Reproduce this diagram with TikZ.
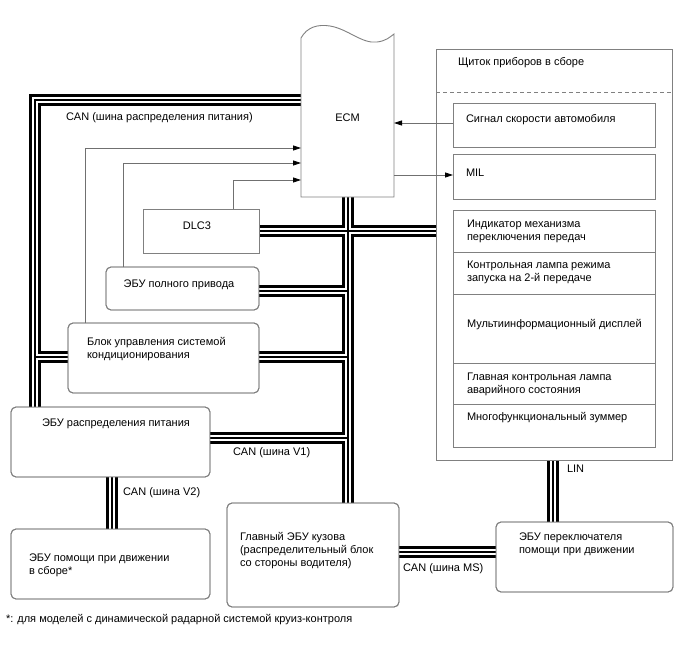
\documentclass[tikz,border=0pt]{standalone}
\usepackage{fontspec}
\setmainfont{Liberation Sans}
\usetikzlibrary{arrows.meta,calc}
\definecolor{boxgray}{HTML}{808080}
\definecolor{linegray}{HTML}{707070}
\begin{document}
\begin{tikzpicture}[x=1pt,y=-1pt,
  font=\fontsize{11}{13}\selectfont,
  box/.style={draw=boxgray, line width=0.9pt, fill=white, inner sep=0pt, outer sep=0pt, anchor=north west},
  rbox/.style={box, rounded corners=5pt},
  txt/.style={inner sep=0pt, outer sep=0pt, anchor=west, align=left},
  arr/.style={draw=linegray, line width=0.8pt, -{Triangle[length=8pt,width=5pt,color=black]}},
  busA/.style={line width=12pt, draw=black},
  busB/.style={line width=6.6pt, draw=white},
  busC/.style={line width=1.5pt, draw=black}]
\useasboundingbox (0,0) rectangle (688,658);

% ---------- nodes (boxes) ----------
\node[inner sep=0pt, outer sep=0pt, minimum width=93pt, minimum height=159pt] (ecm) at (347.5,117.5) {};
\node[box, minimum width=236pt, minimum height=411pt] (ip) at (436,49) {};
\node[box, minimum width=116pt, minimum height=44pt] (dlc) at (143,209) {};
\node[rbox, minimum width=153pt, minimum height=43pt] (awd) at (106,267) {};
\node[rbox, minimum width=191pt, minimum height=70pt] (ac) at (68,323) {};
\node[rbox, minimum width=199pt, minimum height=70pt] (pd) at (11,407) {};
\node[rbox, minimum width=199pt, minimum height=70pt] (da) at (11,529) {};
\node[rbox, minimum width=172pt, minimum height=104pt] (body) at (227,503) {};
\node[rbox, minimum width=177pt, minimum height=70pt] (sw) at (496,522) {};

% junction coordinates of the buses
\coordinate (b1top) at (35,100);
\coordinate (b1ac) at (35,357);
\coordinate (j1) at (348,231);
\coordinate (j2) at (348,291);
\coordinate (j3) at (348,357);
\coordinate (j4) at (348,438);
\coordinate (v2) at (112,500);
\coordinate (ms) at (450,552);
\coordinate (lin) at (553,490);

\def\busnet{
  (ecm.west |- b1top) -- (b1top) -- (pd.north -| b1top)
  (b1ac) -- (ac.west |- b1ac)
  (ecm.south -| j1) -- (body.north -| j1)
  (dlc.east |- j1) -- (ip.west |- j1)
  (awd.east |- j2) -- (j2)
  (ac.east |- j3) -- (j3)
  (pd.east |- j4) -- (j4)
  (pd.south -| v2) -- (da.north -| v2)
  (body.east |- ms) -- (sw.west |- ms)
  (ip.south -| lin) -- (sw.north -| lin)
}
\draw[busA] \busnet;
\draw[busB] \busnet;
\draw[busC] \busnet;

% redraw box outlines on top of bus ends
\draw[draw=boxgray, line width=0.9pt] (dlc.north west) rectangle (dlc.south east);
\draw[draw=boxgray, line width=0.9pt, rounded corners=5pt] (awd.north west) rectangle (awd.south east);
\draw[draw=boxgray, line width=0.9pt, rounded corners=5pt] (ac.north west) rectangle (ac.south east);
\draw[draw=boxgray, line width=0.9pt, rounded corners=5pt] (pd.north west) rectangle (pd.south east);
\draw[draw=boxgray, line width=0.9pt, rounded corners=5pt] (da.north west) rectangle (da.south east);
\draw[draw=boxgray, line width=0.9pt, rounded corners=5pt] (body.north west) rectangle (body.south east);
\draw[draw=boxgray, line width=0.9pt, rounded corners=5pt] (sw.north west) rectangle (sw.south east);
\draw[draw=boxgray, line width=0.9pt] (ip.north west) rectangle (ip.south east);

% ECM outline with wavy top
\draw[draw=boxgray, line width=0.9pt, fill=white]
  (ecm.south west) -- (ecm.north west)
  .. controls (307,27) and (318,24) .. (330,26)
  .. controls (348,29) and (362,44) .. (377,42)
  .. controls (386,41) and (390,37) .. (394,34)
  -- (ecm.south east) -- cycle;
\node[inner sep=0pt] (ecmt) at (ecm.center) {ECM};

% instrument cluster contents
\draw[draw=boxgray, line width=0.8pt, dash pattern=on 4pt off 3pt] (ip.west |- 0,92) -- (ip.east |- 0,92);
\node[box, minimum width=202pt, minimum height=44pt] (spd) at (453,103) {};
\node[box, minimum width=202pt, minimum height=45pt] (mil) at (453,154) {};
\node[box, minimum width=202pt, minimum height=42pt] (ind) at (453,210) {};
\node[box, minimum width=202pt, minimum height=42pt] (lamp) at (453,252) {};
\node[box, minimum width=202pt, minimum height=69pt] (mid) at (453,294) {};
\node[box, minimum width=202pt, minimum height=41pt] (mlamp) at (453,363) {};
\node[box, minimum width=202pt, minimum height=43pt] (buz) at (453,404) {};

% texts
\node[txt] (tip) at (458,63) {Щиток приборов в сборе};
\node[txt] (tspd) at (466,120) {Сигнал скорости автомобиля};
\node[txt] (tmil) at (466,173) {MIL};
\node[txt] (tind) at (467,231) {Индикатор механизма\\переключения передач};
\node[txt] (tlamp) at (467,272) {Контрольная лампа режима\\запуска на 2-й передаче};
\node[txt] (tmid) at (467,325) {Мультиинформационный дисплей};
\node[txt] (tmlamp) at (467,384) {Главная контрольная лампа\\аварийного состояния};
\node[txt] (tbuz) at (467,418) {Многофункциональный зуммер};

\node[inner sep=0pt] (tdlc) at (197,226) {DLC3};
\node[inner sep=0pt] (tawd) at (179,285) {ЭБУ полного привода};
\node[txt] (tac) at (87,349) {Блок управления системой\\кондиционирования};
\node[txt] (tpd) at (42,424) {ЭБУ распределения питания};
\node[txt] (tda) at (29,565) {ЭБУ помощи при движении\\в сборе*};
\node[txt] (tbody) at (240,551) {Главный ЭБУ кузова\\(распределительный блок\\со стороны водителя)};
\node[txt] (tsw) at (519,544) {ЭБУ переключателя\\помощи при движении};

\node[txt] (lcan1) at (66,118) {CAN (шина распределения питания)};
\node[txt] (lv1) at (233,453) {CAN (шина V1)};
\node[txt] (lv2) at (123,493) {CAN (шина V2)};
\node[txt] (lms) at (403,569) {CAN (шина MS)};
\node[txt] (llin) at (567,469) {LIN};
\node[txt] (fn) at (6,620) {*: для моделей с динамической радарной системой круиз-контроля};

% signal lines
\coordinate (a1) at (85,148);
\coordinate (a2) at (123,163);
\coordinate (a3) at (233,180);
\draw[arr] (ac.north -| a1) -- (a1) -- (ecm.west |- a1);
\draw[arr] (awd.north -| a2) -- (a2) -- (ecm.west |- a2);
\draw[arr] (dlc.north -| a3) -- (a3) -- (ecm.west |- a3);
\coordinate (s1) at (420,123);
\coordinate (s2) at (420,175);
\draw[arr] (spd.west |- s1) -- (ecm.east |- s1);
\draw[arr] (ecm.east |- s2) -- (mil.west |- s2);
\end{tikzpicture}
\end{document}
